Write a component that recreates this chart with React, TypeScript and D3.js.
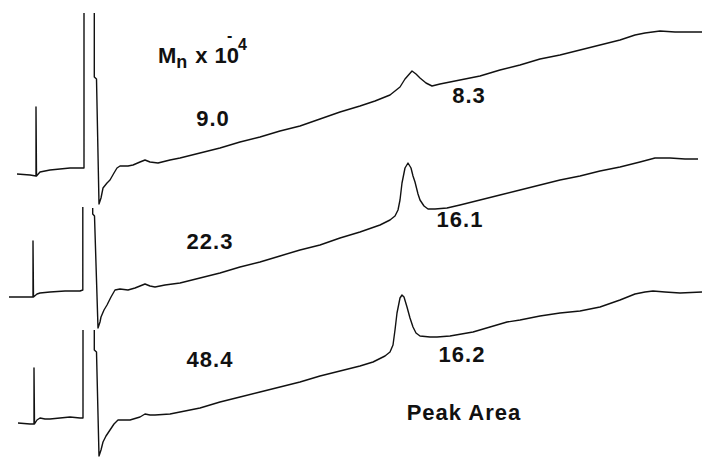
import React from 'react';
import * as d3 from 'd3';

type Pt = [number, number | null];

// detector traces: [time, signal]; null = pen off scale
const traceOne: Pt[] = [
  [17, 0], [30, -1], [36, -2], [36, 67], [36.5, -2], [40, 2], [50, 4], [60, 5], [70, 6], [80, 6],
  [84, 6], [84, 161], [89, null], [94.3, 161], [94.3, 97], [96.5, 95], [99, -30], [101, -24],
  [103, -14], [107, -9], [110, -6], [114, 1], [117, 6], [120, 8], [128, 8], [133, 9], [140, 12],
  [145, 14], [150, 12], [158, 11], [170, 14], [180, 16], [200, 21], [220, 26], [240, 32], [260, 37],
  [280, 43], [300, 48], [320, 55], [340, 62], [360, 68], [375, 73], [390, 79], [400, 87], [405, 95],
  [412, 103], [416, 100], [420, 96], [426, 91], [432, 88], [440, 90], [460, 94], [480, 98],
  [500, 104], [520, 109], [540, 115], [560, 119], [580, 124], [600, 129], [620, 134], [635, 139],
  [645, 141], [660, 143], [675, 142], [690, 142], [702, 142],
];

const traceTwo: Pt[] = [
  [9, 0], [20, 0], [33, 0], [33, 56], [33.5, 0], [37, 3], [40, 4], [50, 5], [65, 6], [80, 6],
  [82.8, 7], [82.8, 90], [88, null], [92.7, 89], [92.7, 83], [94.5, 81], [98, -31], [100, -25],
  [101, -20], [104, -13], [107, -8], [111, 0], [115, 7], [120, 8], [128, 7], [135, 9], [140, 11],
  [145, 13], [150, 11], [155, 10], [165, 12], [180, 14], [200, 19], [220, 24], [240, 30], [260, 35],
  [280, 41], [300, 47], [320, 52], [340, 59], [360, 65], [380, 72], [390, 77], [395, 81], [398, 87],
  [400, 97], [402, 114], [405, 129], [408, 134], [411, 129], [413, 121], [415, 115], [418, 103],
  [420, 97], [424, 91], [428, 88], [435, 88], [447, 89], [460, 92], [480, 97], [500, 102],
  [520, 107], [540, 112], [560, 117], [580, 121], [600, 126], [620, 130], [640, 135], [655, 139],
  [670, 139], [685, 138], [698, 138],
];

const traceThree: Pt[] = [
  [18, 0], [30, -1], [34, -1], [34, 55], [34.5, -1], [37, 3], [40, 5], [45, 4], [50, 4], [60, 5],
  [70, 6], [80, 5], [83, 5], [83, 93], [88, null], [94.3, 93], [94.3, 73], [96.5, 71], [99, -33],
  [101, -27], [103, -19], [106, -13], [110, -7], [114, -1], [118, 3], [125, 3], [130, 3], [140, 6],
  [145, 9], [150, 8], [155, 8], [170, 9], [180, 11], [200, 15], [220, 21], [240, 26], [260, 31],
  [280, 36], [300, 41], [320, 47], [340, 52], [360, 57], [373, 61], [385, 67], [390, 71], [393, 78],
  [395, 93], [397, 110], [400, 125], [402, 128], [404, 126], [407, 116], [410, 105], [413, 96],
  [416, 90], [420, 87], [430, 86], [437, 86], [450, 87], [473, 91], [490, 96], [507, 101],
  [520, 103], [540, 107], [560, 110], [580, 112], [600, 116], [620, 123], [635, 129], [645, 131],
  [653, 132], [665, 131], [680, 130], [702, 131],
];

const mnLabels = ['9.0', '22.3', '48.4'];
const areaLabels = ['8.3', '16.1', '16.2'];

export default function App() {
  const width = 702;
  const height = 457;

  const traces = [traceOne, traceTwo, traceThree];
  const bases = [174, 297, 423]; // baseline height of each trace on the page

  // where the labels sit, in the trace's own time/signal units
  const mnPos = [[213, 48], [210, 48], [210, 56]];
  const areaPos = [[469, 71], [460, 70], [462, 61]];

  const x = d3.scaleLinear().domain([0, 702]).range([0, width]);
  const yScales = bases.map(b => d3.scaleLinear().domain([0, 170]).range([b, b - 170]));

  const font = '"Liberation Sans", Arial, Helvetica, sans-serif';

  return (
    <svg width={width} height={height} style={{ position: 'absolute', left: 0, top: 0, background: '#fff' }}>
      {traces.map((tr, i) => {
        const y = yScales[i];
        const line = d3.line<Pt>()
          .defined(d => d[1] !== null)
          .x(d => x(d[0]))
          .y(d => y(d[1] as number));
        return (
          <path key={'t' + i} d={line(tr) || ''} fill="none" stroke="#111"
            strokeWidth={1.4} strokeLinejoin="round" />
        );
      })}

      <g fontFamily={font} fontWeight="bold" fill="#111">
        {mnLabels.map((t, i) => (
          <text key={'m' + i} x={x(mnPos[i][0])} y={yScales[i](mnPos[i][1])}
            textAnchor="middle" fontSize={22} letterSpacing={1}>{t}</text>
        ))}
        {areaLabels.map((t, i) => (
          <text key={'a' + i} x={x(areaPos[i][0])} y={yScales[i](areaPos[i][1])}
            textAnchor="middle" fontSize={22} letterSpacing={1}>{t}</text>
        ))}

        <text x={x(158)} y={yScales[0](111)} fontSize={22}>
          M
          <tspan fontSize={18} dy={5}>n</tspan>
          <tspan dx={8} dy={-5}>x</tspan>
          <tspan dx={7}>10</tspan>
        </text>
        <text x={x(227)} y={yScales[0](133)} fontSize={16}>-</text>
        <text x={x(238)} y={yScales[0](124)} fontSize={16}>4</text>

        <text x={x(464)} y={yScales[2](3)} textAnchor="middle" fontSize={22} letterSpacing={1}>
          Peak Area
        </text>
      </g>
    </svg>
  );
}
